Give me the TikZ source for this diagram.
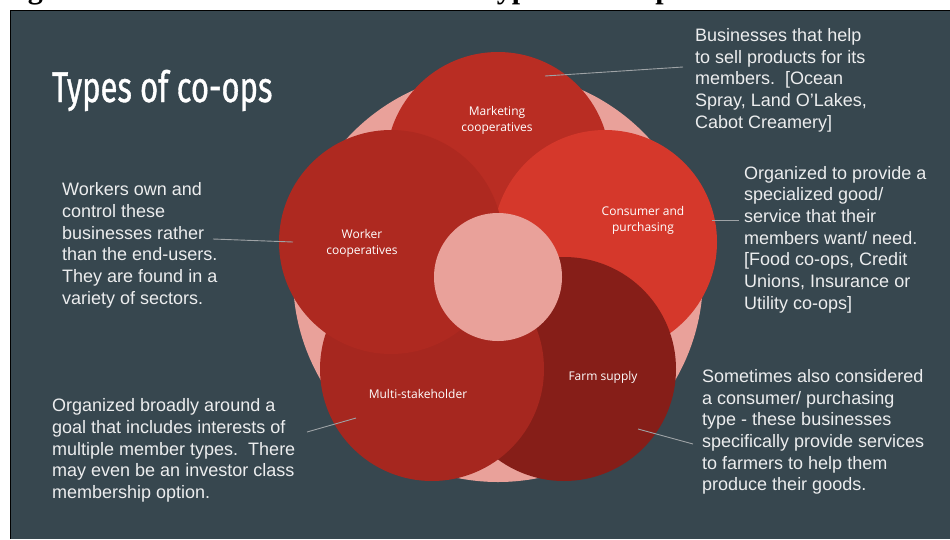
\documentclass[tikz,border=0pt]{standalone}
\usepackage{fontspec}
\setmainfont{Liberation Sans}
\newfontfamily\labelfont{Open Sans}
\newfontfamily\headfont{Liberation Serif}
\newfontfamily\titlefont[FakeStretch=0.72, FakeBold=0.8]{Fira Sans}

\definecolor{slate}{HTML}{37474F}
\definecolor{ringpink}{HTML}{E9A19A}
\definecolor{marketred}{HTML}{B92D23}
\definecolor{consumerred}{HTML}{D5382B}
\definecolor{farmred}{HTML}{861E18}
\definecolor{multired}{HTML}{A6271F}
\definecolor{workerred}{HTML}{AE2920}
\definecolor{blurbgray}{HTML}{ECEDEE}
\definecolor{leadergray}{HTML}{9EA3A6}

\tikzset{
  coop/.style={circle, minimum size=224pt, inner sep=0pt, draw=none},
  tag/.style={align=center, text=white, font=\labelfont\fontsize{12}{16}\selectfont},
  blurb/.style={anchor=north west, align=left, inner sep=0pt, text=blurbgray,
    font=\fontsize{18}{21.7}\selectfont},
  leader/.style={draw=leadergray, line width=0.9pt},
  heading/.style={anchor=base west, inner sep=0pt, font=\headfont\bfseries\fontsize{30}{36}\selectfont}
}

\begin{document}
\begin{tikzpicture}[x=1pt, y=-1pt]
  % Page and dark slide panel
  \fill[white] (0,0) rectangle (950,539);
  \useasboundingbox (0,0) rectangle (950,539);
  \fill[slate] (11,11) rectangle (950,539);
  \draw[black, line width=1.5pt] (10.5,539) -- (10.5,10.5) -- (950,10.5);

  % Caption line above the panel (only its descenders fall on the page)
  \node[heading] (headfig)  at (1,-1.5)   {Figure};
  \node[heading] (headtype) at (479,-1.5) {Types of Co-ops};

  % Title
  \node[anchor=base west, inner sep=0pt, text=white, font=\titlefont\fontsize{43}{50}\selectfont]
    (title) at (52,102) {Types of co-ops};

  % Pink ring behind the petals
  \node[circle, minimum size=410pt, inner sep=0pt, fill=ringpink] (ring) at (498,277) {};

  % The five petals, drawn in stacking order
  \node[coop, fill=marketred]   (market)   at (498,164) {};
  \node[coop, fill=consumerred] (consumer) at (605,242) {};
  \node[coop, fill=farmred]     (farm)     at (564,369) {};
  \node[coop, fill=multired]    (multi)    at (432,369) {};
  \node[coop, fill=workerred]   (worker)   at (391,242) {};

  % Hub in the middle
  \node[circle, minimum size=128pt, inner sep=0pt, fill=ringpink] (hub) at (498,277) {};

  % Petal labels
  \node[tag] (marketlbl)   at (497,120) {Marketing\\cooperatives};
  \node[tag] (workerlbl)   at (362,243) {Worker\\cooperatives};
  \node[tag] (consumerlbl) at (643,220) {Consumer and\\purchasing};
  \node[tag] (farmlbl)     at (603,377) {Farm supply};
  \node[tag] (multilbl)    at (418,394) {Multi-stakeholder};

  % Descriptions
  \node[blurb] (marketnote) at (695,28.3) {Businesses that help\\to sell products for its\\members.\ \ [Ocean\\Spray, Land O'Lakes,\\Cabot Creamery]};
  \node[blurb] (workernote) at (62,182.5) {Workers own and\\control these\\businesses rather\\than the end-users.\\They are found in a\\variety of sectors.};
  \node[blurb] (consumernote) at (744,165.8) {Organized to provide a\\specialized good/\\service that their\\members want/ need.\\{[}Food co-ops, Credit\\Unions, Insurance or\\Utility co-ops]};
  \node[blurb] (farmnote) at (702,369.1) {Sometimes also considered\\a consumer/ purchasing\\type - these businesses\\specifically provide services\\to farmers to help them\\produce their goods.};
  \node[blurb] (multinote) at (52,398.5) {Organized broadly around a\\goal that includes interests of\\multiple member types.\ \ There\\may even be an investor class\\membership option.};

  % Leader lines
  \coordinate (marketin)    at (545,76);
  \coordinate (marketout)   at (683,67);
  \coordinate (workerin)    at (293,242);
  \coordinate (workerout)   at (213,239);
  \coordinate (consumerin)  at (712,220);
  \coordinate (consumerout) at (739,220);
  \coordinate (farmin)      at (638,429);
  \coordinate (farmout)     at (693,444);
  \coordinate (multiin)     at (356,418);
  \coordinate (multiout)    at (307,432);
  \foreach \a in {market, worker, consumer, farm, multi} {
    \draw[leader] (\a in) -- (\a out);
  }
\end{tikzpicture}
\end{document}
